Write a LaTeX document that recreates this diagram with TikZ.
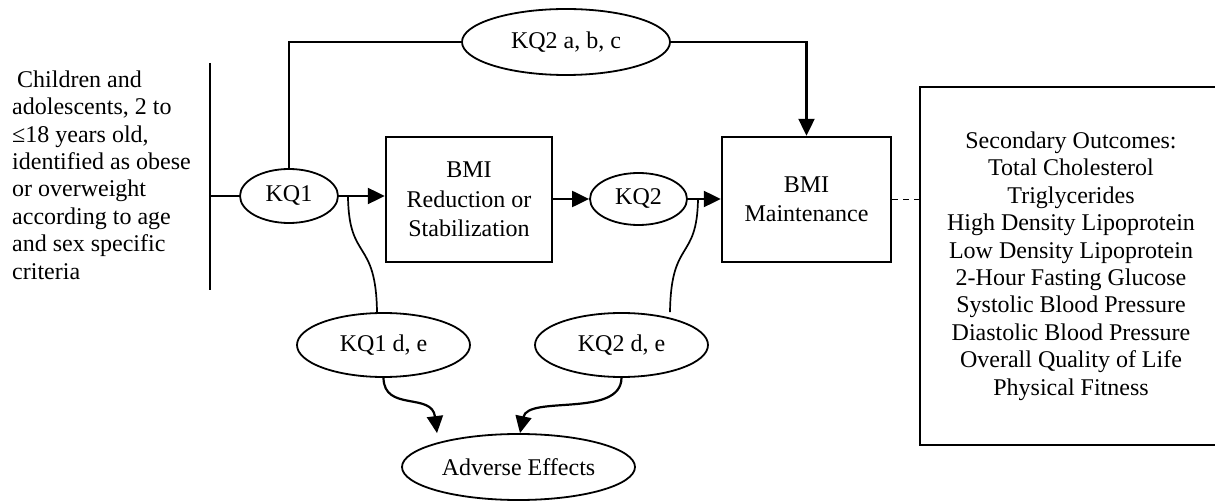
\documentclass[tikz,border=0pt]{standalone}
\usepackage{fontspec}
\setmainfont{Liberation Serif}
\usetikzlibrary{shapes.geometric,arrows.meta}
\tikzset{
  every node/.style={font=\fontsize{24}{27.4}\selectfont},
  ell/.style={draw, ellipse, line width=1.8pt, inner sep=0pt},
  boxn/.style={draw, rectangle, line width=2.4pt, align=center, inner sep=0pt, font=\fontsize{24}{29.5}\selectfont},
  conn/.style={line width=2pt},
  arr/.style={line width=2.2pt, -{Triangle[length=17pt,width=16pt]}},
  thin conn/.style={line width=1.7pt},
}
\begin{document}
\begin{tikzpicture}[x=1pt,y=-1pt]
\clip (0,0) rectangle (1215,502);
\fill[white] (0,0) rectangle (1215,502);
% left population text
\node[align=left, anchor=west, inner sep=0pt] (pop) at (12,175)
 {\hspace{5pt}Children and\\ adolescents, 2 to\\ ≤18 years old,\\ identified as obese\\ or overweight\\ according to age\\ and sex specific\\ criteria};
\coordinate (bartop) at (210,63);
\coordinate (barbot) at (210,290);
\coordinate (barmid) at (210,196);
\draw[conn] (bartop) -- (barbot);
% nodes
\node[ell, minimum width=98pt, minimum height=54pt] (kq1) at (289,196) {KQ1};
\node[ell, minimum width=208pt, minimum height=66pt] (kq2abc) at (566,42) {KQ2 a, b, c};
\node[boxn, minimum width=166pt, minimum height=125pt] (red) at (469,199.5) {BMI\\ Reduction or\\ Stabilization};
\node[ell, minimum width=97pt, minimum height=52pt] (kq2) at (638.5,199) {KQ2};
\node[boxn, minimum width=169pt, minimum height=125pt] (maint) at (806.5,199.5) {BMI\\ Maintenance};
\node[draw, rectangle, line width=2.4pt, align=center, inner sep=0pt, minimum width=302pt, minimum height=358pt] (sec) at (1071,266)
 {Secondary Outcomes:\\ Total Cholesterol\\ Triglycerides\\ High Density Lipoprotein\\ Low Density Lipoprotein\\ 2-Hour Fasting Glucose\\ Systolic Blood Pressure\\ Diastolic Blood Pressure\\ Overall Quality of Life\\ Physical Fitness};
\node[ell, minimum width=173pt, minimum height=64pt] (kq1de) at (383.5,345) {KQ1 d, e};
\node[ell, minimum width=173pt, minimum height=64pt] (kq2de) at (621.5,345) {KQ2 d, e};
\node[ell, minimum width=233pt, minimum height=66pt] (adv) at (518.5,467) {Adverse Effects};
% connectors
\draw[conn] (barmid) -- (kq1.west);
\draw[conn] (kq1.north) |- (kq2abc.west);
\draw[arr] (kq2abc.east) -| (maint.north);
\draw[arr] (kq1.east) -- (kq1.east -| red.west);
\draw[arr] (red.east |- kq2.west) -- (kq2.west);
\draw[arr] (kq2.east) -- (kq2.east -| maint.west);
\draw[line width=1.8pt, dash pattern=on 6pt off 5pt] (maint.east) -- (maint.east -| sec.west);
% branch curves
\coordinate (b1) at (348,197);
\coordinate (b2) at (698,199);
\draw[thin conn] (b1) .. controls (349,262) and (376,238) .. (kq1de.north -| 377,0);
\draw[thin conn] (b2) .. controls (697,262) and (671,238) .. (kq2de.north -| 670,0);
\draw[arr] (kq1de.south) .. controls (384,412) and (432,392) .. (adv.north -| 437,0);
\draw[arr] (kq2de.south) .. controls (621,418) and (528,395) .. (adv.north -| 520,0);
\end{tikzpicture}
\end{document}
